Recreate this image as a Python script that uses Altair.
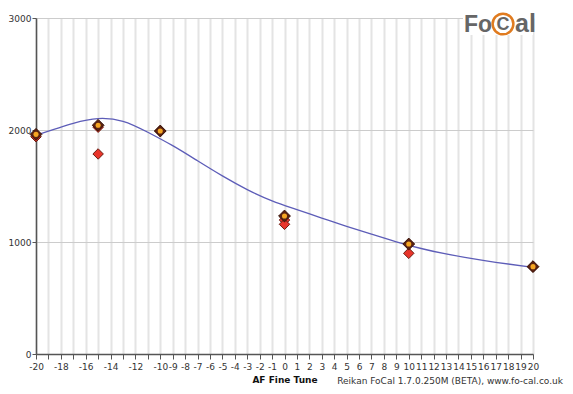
import altair as alt
import pandas as pd

# ---- data ----
x_ticks = list(range(-20, 21))
y_ticks = [0, 1000, 2000, 3000]

curve_x = [-20, -17, -15, -13, -11, -9, -7, -5, -3, -1, 1, 3, 5, 7, 9, 11, 13, 15, 17, 20]
curve_y = [1955, 2060, 2102, 2078, 1980, 1860, 1725, 1590, 1468, 1368, 1290, 1213, 1140, 1070, 1002, 942, 893, 853, 818, 774]

reading_x = [-20, -15, -15, -10, 0, 0, 10, 20]
reading_y = [1940, 2025, 1786, 1991, 1196, 1158, 899, 778]

best_x = [-20, -15, -10, 0, 10, 20]
best_y = [1961, 2042, 1991, 1232, 982, 780]

x_title = "AF Fine Tune"
credit = "Reikan FoCal 1.7.0.250M (BETA), www.fo-cal.co.uk"

curve_df = pd.DataFrame({"x": curve_x, "y": curve_y})
read_df = pd.DataFrame({"x": reading_x, "y": reading_y})
best_df = pd.DataFrame({"x": best_x, "y": best_y})

FONT = "DejaVu Sans"

xscale = alt.Scale(domain=[-20, 20], nice=False, zero=False)
yscale = alt.Scale(domain=[0, 3000], nice=False)

xaxis = alt.Axis(
    values=x_ticks, title=x_title, grid=True, gridColor="#e4e4e4", gridWidth=2,
    domainColor="#555555", domainWidth=1.5, tickColor="#555555", tickSize=5,
    labelFont=FONT, labelFontSize=9, labelColor="#333333", labelPadding=3,
    labelOverlap=False, labelFlush=False,
    labelExpr="(datum.value >= -10 || datum.value % 2 == 0) ? toString(datum.value) : ''",
    titleFont=FONT, titleFontSize=9, titleFontWeight="bold", titleColor="#111111",
    titlePadding=4,
)
yaxis = alt.Axis(
    values=y_ticks, title=None, grid=True, gridColor="#cccccc", gridWidth=1,
    domainColor="#555555", domainWidth=1.5, tickColor="#555555", tickSize=4,
    labelFont=FONT, labelFontSize=9, labelColor="#333333", labelPadding=1,
    format="d", labelOverlap=False,
)

X = alt.X("x:Q", scale=xscale, axis=xaxis)
Y = alt.Y("y:Q", scale=yscale, axis=yaxis)

line = alt.Chart(curve_df).mark_line(
    color="#5d5db8", strokeWidth=1.3, interpolate="natural"
).encode(x=X, y=Y)

readings = alt.Chart(read_df).mark_point(
    shape="diamond", filled=True, size=110, fill="#e8352b", stroke="#6b1d12",
    strokeWidth=1, opacity=1,
).encode(x=X, y=Y)

best = alt.Chart(best_df).mark_point(
    shape="diamond", filled=True, size=140, fill="#5a2212", stroke="#3a140a",
    strokeWidth=1, opacity=1,
).encode(x=X, y=Y)

best_dot = alt.Chart(best_df).mark_point(
    shape="circle", filled=True, size=26, fill="#f5a623", opacity=1,
).encode(x=X, y=Y)

credit_text = alt.Chart(pd.DataFrame({"t": [credit]})).mark_text(
    font=FONT, fontSize=9, color="#333333", align="right", baseline="middle"
).encode(x=alt.value(527), y=alt.value(363), text="t:N")

# logo
logo_bg = alt.Chart(pd.DataFrame({"a": [0]})).mark_rect(color="white").encode(
    x=alt.value(427), x2=alt.value(497), y=alt.value(0), y2=alt.value(17)
)
logo_fo = alt.Chart(pd.DataFrame({"t": ["Fo"]})).mark_text(
    font="Liberation Sans", fontSize=23, fontWeight="bold", color="#666666",
    align="right", baseline="alphabetic"
).encode(x=alt.value(456), y=alt.value(14), text="t:N")
logo_c = alt.Chart(pd.DataFrame({"t": ["C"]})).mark_text(
    font="Liberation Sans", fontSize=18, fontWeight="bold", color="#666666",
    align="center", baseline="middle"
).encode(x=alt.value(467), y=alt.value(6.5), text="t:N")
logo_ring = alt.Chart(pd.DataFrame({"a": [0]})).mark_point(
    shape="circle", size=430, filled=False, stroke="#e07b1f", strokeWidth=2.5, opacity=1
).encode(x=alt.value(467), y=alt.value(6))
logo_al = alt.Chart(pd.DataFrame({"t": ["al"]})).mark_text(
    font="Liberation Sans", fontSize=25, fontWeight="bold", color="#666666",
    align="left", baseline="alphabetic"
).encode(x=alt.value(479), y=alt.value(14), text="t:N")

chart = alt.layer(
    line, readings, best, best_dot, credit_text,
    logo_bg, logo_fo, logo_ring, logo_c, logo_al,
).properties(
    width=497, height=336,
    autosize=alt.AutoSizeParams(type="none"),
    padding={"left": 28, "top": 10, "right": 32, "bottom": 32},
).configure_view(stroke=None).configure(background="white")

chart.save("out.html", embed_options={"renderer": "svg", "actions": False})
